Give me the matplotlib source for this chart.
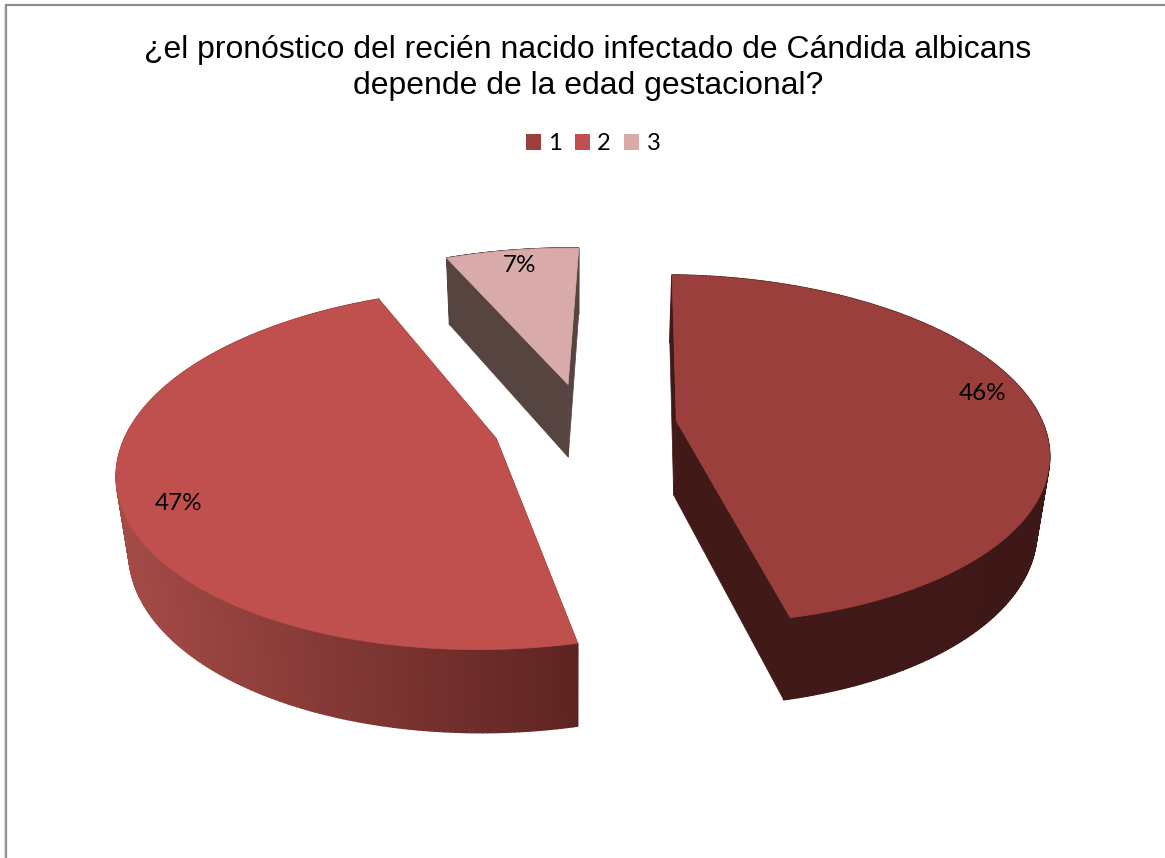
import numpy as np
import matplotlib
matplotlib.use("Agg")
import matplotlib.pyplot as plt
from matplotlib.collections import PolyCollection
from matplotlib.patches import Patch, Polygon

categories = ["1", "2", "3"]
values = [46, 47, 7]
top_colors = ["#9B3F3D", "#C0504D", "#D9AAAA"]
cut_colors = ["#411A18", "#5E2422", "#564441"]
wall_left = ["#411A18", "#A54B47", "#564441"]
wall_right = ["#3E1817", "#5E2422", "#564441"]
title_lines = ["¿el pronóstico del recién nacido infectado de Cándida albicans",
               "depende de la edad gestacional?"]

W, H = 1165, 858

# camera for the tilted pie: unit circle on the top face, depth 1 is the bottom face
CX, AX, BX = 585.0, 367.0, 97.0
FY, DY = 425.0, -101.0
KW = 0.165
MW, XZ, HZ = 0.027, 575.0, 88.0
EXPLODE = 0.251
FIRST_ANGLE = 1.5


def project(x, y, depth=0.0):
    w = 1 + KW * y + MW * depth
    px = (CX + AX * x + BX * y + MW * XZ * depth) / w
    py = (FY + DY * y + HZ * depth) / w
    return np.column_stack([px, py])


def slice_points(start, end, ox, oy, depth=0.0):
    t = np.radians(np.linspace(start, end, 240))
    return project(ox + np.sin(t), oy + np.cos(t), depth)


def draw_slice(ax, start, end, i):
    mid = np.radians((start + end) / 2)
    ox, oy = EXPLODE * np.sin(mid), EXPLODE * np.cos(mid)

    top = slice_points(start, end, ox, oy)
    bottom = slice_points(start, end, ox, oy, 1.0)
    apex = project(np.array([ox]), np.array([oy]))
    apex_b = project(np.array([ox]), np.array([oy]), 1.0)

    # the two cut faces
    for a, b in ((top[0], bottom[0]), (top[-1], bottom[-1])):
        face = [apex[0], a, b, apex_b[0]]
        ax.add_patch(Polygon(face, closed=True, fc=cut_colors[i], ec=cut_colors[i], lw=0.5))

    # curved outer wall, shaded in strips from left to right
    quads = [[top[j], top[j + 1], bottom[j + 1], bottom[j]] for j in range(len(top) - 1)]
    xs = top[:-1, 0]
    left = np.array(matplotlib.colors.to_rgb(wall_left[i]))
    right = np.array(matplotlib.colors.to_rgb(wall_right[i]))
    frac = np.clip((xs - xs.min()) / max(xs.max() - xs.min(), 1), 0, 1)[:, None]
    cols = left + (right - left) * frac
    ax.add_collection(PolyCollection(quads, facecolors=cols, edgecolors=cols, linewidths=1.2))

    ax.add_patch(Polygon(np.vstack([apex, top]), closed=True, fc=top_colors[i],
                         ec=top_colors[i], lw=0.5))


fig = plt.figure(figsize=(W / 100, H / 100), dpi=100)
ax = fig.add_axes([0, 0, 1, 1])
ax.set_xlim(0, W)
ax.set_ylim(H, 0)
ax.axis("off")

# chart frame, only the top and left edges are in view
ax.plot([5.5, 5.5, W], [H, 4.5, 4.5], color="#8C8C8C", lw=1.6, solid_joinstyle="miter")
ax.plot([3.8, 3.8], [H, 6], color="#DDDDDD", lw=1)

shares = np.array(values) / sum(values) * 360
ends = FIRST_ANGLE + np.cumsum(shares)
starts = ends - shares
for i in range(len(values)):
    draw_slice(ax, starts[i], ends[i], i)

label_xy = [(983, 393), (179, 503), (520, 265)]
for v, (x, y) in zip(values, label_xy):
    ax.text(x, y, f"{v}%", ha="center", va="center", fontsize=17.5, family="Lato", color="black")

for line, y in zip(title_lines, (50, 86)):
    ax.text(588, y, line, ha="center", va="center", fontsize=22.95,
            family="Liberation Sans", color="black")

handles = [Patch(facecolor=c, edgecolor="none") for c in top_colors]
fig.legend(handles, categories, loc="center", bbox_to_anchor=(593 / W, 1 - 144 / H), ncol=3,
           frameon=False, prop={"family": "Lato", "size": 17}, handlelength=0.635,
           handleheight=0.635, handletextpad=0.3, columnspacing=0.58,
           borderpad=0, borderaxespad=0)

fig.savefig("out.png", dpi=100)
